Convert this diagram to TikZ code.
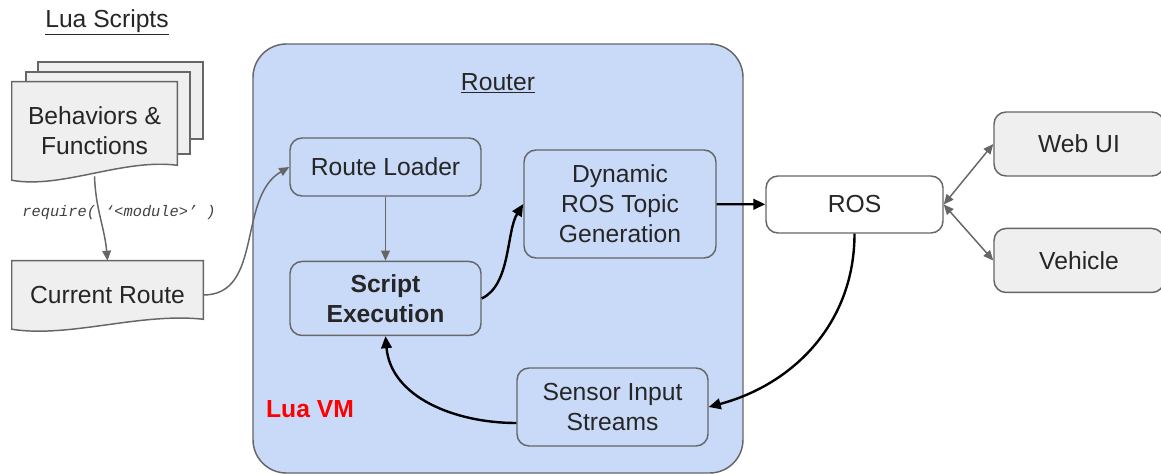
\documentclass[tikz,border=0pt]{standalone}
\usepackage{fontspec}
\setmainfont{Liberation Sans}
\setmonofont{Liberation Mono}
\usepackage{tikz}
\usetikzlibrary{arrows.meta,calc,positioning,backgrounds}

\definecolor{routerblue}{HTML}{C9DAF8}
\definecolor{pagegray}{HTML}{EFEFEF}
\definecolor{edgegray}{HTML}{666666}

\tikzset{
    block/.style={draw=edgegray, line width=1.1pt, rounded corners=9pt, fill=routerblue,
                  text=black!85, align=center, inner sep=0pt, minimum width=143.25pt},
    outside/.style={block, fill=pagegray, minimum width=127.5pt, minimum height=48pt},
    page/.style={draw=edgegray, line width=1.1pt, fill=pagegray},
    pagetext/.style={text=black!85, align=center, inner sep=0pt},
    thin arrow/.style={color=edgegray, line width=1.1pt, -{Triangle[length=7.5pt,width=6.5pt]}},
    both arrow/.style={color=edgegray, line width=1.1pt,
                       {Triangle[length=7.5pt,width=6.5pt]}-{Triangle[length=7.5pt,width=6.5pt]}},
    thick arrow/.style={color=black, line width=1.8pt, -{Triangle[length=9pt,width=8pt]}},
    modlabel/.style={font=\fontsize{11.5}{13}\selectfont\ttfamily\itshape, text=black!75}
}

% document outline with a wavy bottom, drawn round a node
\newcommand{\luapage}[2]{%
    \draw[page] (#1.north west) -- (#1.north east) -- ($(#1.south east)+(0,-#2)$)
        .. controls ($(#1.south east)!0.33!(#1.south west)+(0,-#2-7)$)
           and ($(#1.south east)!0.7!(#1.south west)+(0,9)$) .. (#1.south west) -- cycle;
}

\begin{document}
\begin{tikzpicture}[x=0.75pt, y=-0.75pt, font=\fontsize{18.5}{22.5}\selectfont]
    \useasboundingbox (0,0) rectangle (1161,474);

    % Router container
    \node[draw=edgegray, line width=1.1pt, rounded corners=25pt, fill=routerblue,
          minimum width=367.5pt, minimum height=321.75pt] (router) at (498,258.5) {};
    \node[text=black!85] (routertitle) at (498,83) {\underline{Router}};
    \node[text=red, font=\fontsize{18.5}{22.5}\selectfont\bfseries] (luavm) at (310,409) {Lua VM};

    \node[block, minimum height=43.5pt]                   (loader)   at (385.5,167) {Route Loader};
    \node[block, minimum height=55.5pt, font=\fontsize{18.5}{22.5}\selectfont\bfseries]
                                                          (script)   [below=48pt of loader] {Script\\Execution};
    \node[block, minimum width=144pt, minimum height=81pt] (topicgen) at (620,204) {Dynamic\\ROS Topic\\Generation};
    \node[block, minimum height=58.5pt]                   (sensor)   at (612.5,407) {Sensor Input\\Streams};

    % outside the VM
    \node[block, fill=white, minimum width=132.75pt, minimum height=42.75pt] (ros) at (854.5,204.5) {ROS};
    \node[outside]                                        (webui)    at (1079,144) {Web UI};
    \node[outside]                                        (vehicle)  [below=38.25pt of webui] {Vehicle};

    % Lua scripts
    \node[text=black!85] (luatitle) at (107,22) {\underline{Lua Scripts}};
    \node[pagetext, minimum width=123.75pt, minimum height=73.5pt] (behaviors) at (94.5,131) {Behaviors \&\\Functions};
    \node[pagetext, minimum width=143.25pt, minimum height=51pt]   (curroute)  at (107.5,295) {Current Route};

    \begin{scope}[on background layer]
        \draw[page] (38,62) rectangle (203,139);
        \draw[page] (26,72) rectangle (190,154);
        \luapage{behaviors}{15}
        \luapage{curroute}{10}
    \end{scope}

    \path[thin arrow] ([yshift=3pt]behaviors.south) edge [out=-88, in=95]
                          node [modlabel, pos=0.42, xshift=15pt] {require( ‘<module>’ )} (curroute.north)
                      (curroute.east) edge [out=0, in=210]  (loader.west)
                      (loader)        edge                  (script);

    \path[thick arrow] (script.east)   edge [out=25, in=238, looseness=0.8] (topicgen.west)
                       (topicgen)      edge                    (ros)
                       (ros.south)     edge [out=-90, in=15]   (sensor.east)
                       ([yshift=-12pt]sensor.west) edge [out=180, in=-85] (script.south);

    \path[both arrow] (ros.east) edge (webui.west)
                      (ros.east) edge (vehicle.west);
\end{tikzpicture}
\end{document}
